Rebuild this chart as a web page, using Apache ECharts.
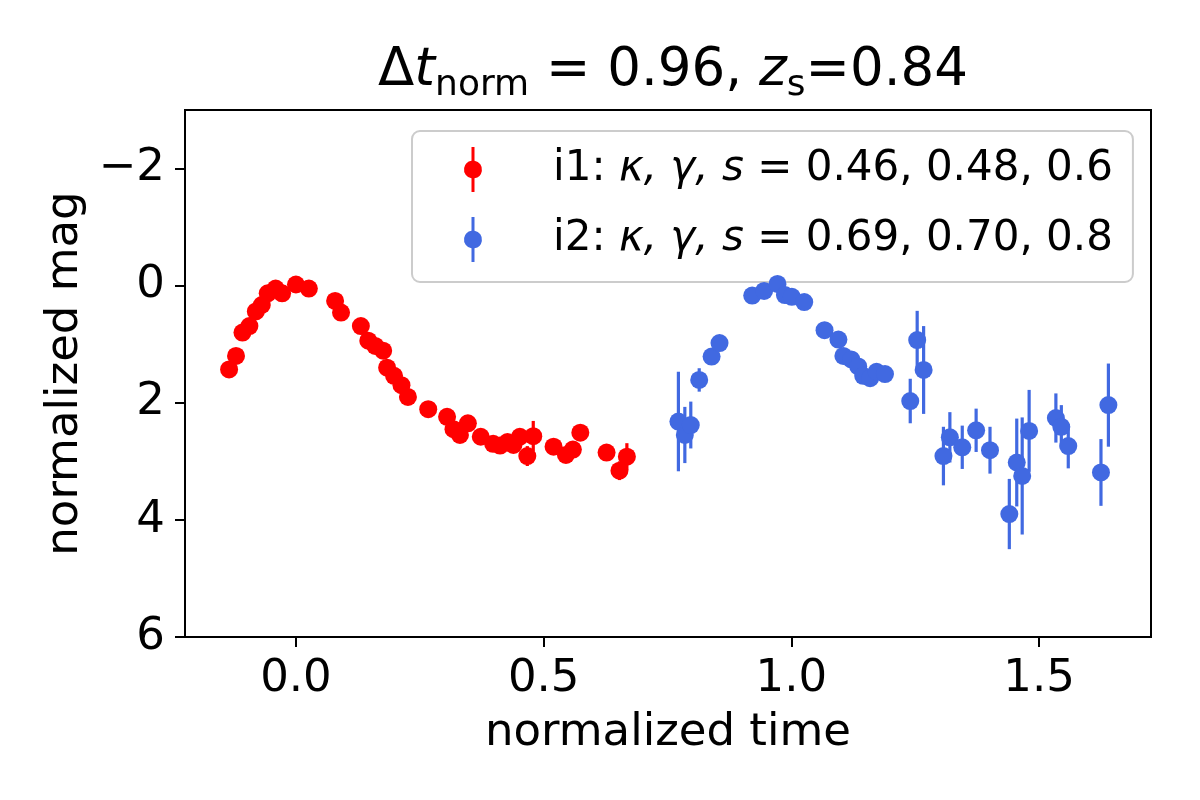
<!DOCTYPE html>
<html lang="en">
<head>
    <meta charset="UTF-8">
    <title>light curves</title>
    <script src="https://cdn.jsdelivr.net/npm/echarts@6/dist/echarts.min.js"></script>
    <style>
        html, body { margin: 0; padding: 0; background: #fff; }
        #main { width: 1200px; height: 800px; }
    </style>
</head>
<body>
<div id="main"></div>
<script>
    // image 1 (red)
    var i1Time = [-0.135, -0.121, -0.108, -0.094, -0.081, -0.069, -0.057, -0.041, -0.028, 0.000,
        0.026, 0.079, 0.091, 0.131, 0.146, 0.160, 0.176, 0.184, 0.198, 0.213,
        0.226, 0.267, 0.305, 0.318, 0.331, 0.347, 0.373, 0.398, 0.412, 0.427,
        0.439, 0.452, 0.467, 0.479, 0.520, 0.545, 0.559, 0.574, 0.627, 0.653, 0.668];
    var i1Mag = [1.43, 1.20, 0.80, 0.69, 0.44, 0.33, 0.13, 0.05, 0.13, -0.02,
        0.05, 0.26, 0.46, 0.69, 0.94, 1.03, 1.11, 1.40, 1.54, 1.70,
        1.90, 2.11, 2.24, 2.45, 2.55, 2.35, 2.58, 2.70, 2.73, 2.67,
        2.72, 2.58, 2.91, 2.57, 2.75, 2.89, 2.80, 2.51, 2.85, 3.16, 2.92];
    var i1Err = [0.10, 0.10, 0.10, 0.10, 0.10, 0.10, 0.10, 0.10, 0.10, 0.10,
        0.10, 0.10, 0.10, 0.10, 0.10, 0.10, 0.10, 0.10, 0.10, 0.10,
        0.10, 0.10, 0.10, 0.10, 0.10, 0.10, 0.10, 0.10, 0.10, 0.10,
        0.10, 0.10, 0.17, 0.26, 0.10, 0.10, 0.10, 0.10, 0.10, 0.16, 0.23];

    // image 2 (blue)
    var i2Time = [0.772, 0.785, 0.797, 0.814, 0.839, 0.855, 0.921, 0.945, 0.972, 0.987,
        1.001, 1.026, 1.067, 1.095, 1.105, 1.121, 1.135, 1.145, 1.159, 1.172,
        1.189, 1.240, 1.254, 1.267, 1.307, 1.320, 1.345, 1.373, 1.401, 1.440,
        1.455, 1.466, 1.480, 1.534, 1.545, 1.559, 1.625, 1.640];
    var i2Mag = [2.32, 2.55, 2.38, 1.61, 1.21, 0.98, 0.17, 0.09, -0.03, 0.16,
        0.19, 0.28, 0.76, 0.92, 1.20, 1.26, 1.38, 1.54, 1.58, 1.47,
        1.51, 1.97, 0.93, 1.44, 2.91, 2.59, 2.76, 2.47, 2.81, 3.90,
        3.02, 3.25, 2.48, 2.26, 2.41, 2.74, 3.19, 2.04];
    var i2Err = [0.85, 0.48, 0.40, 0.20, 0.10, 0.10, 0.08, 0.08, 0.08, 0.08,
        0.08, 0.08, 0.10, 0.10, 0.10, 0.10, 0.10, 0.10, 0.12, 0.12,
        0.12, 0.38, 0.50, 0.75, 0.50, 0.43, 0.37, 0.37, 0.40, 0.60,
        0.75, 1.00, 0.70, 0.42, 0.37, 0.38, 0.57, 0.71];

    var xTicks = [0, 0.5, 1.0, 1.5];
    var yTicks = [-2, 0, 2, 4, 6];
    var seriesNames = ['i1', 'i2'];
    var seriesParams = ['0.46, 0.48, 0.6', '0.69, 0.70, 0.8'];
    var seriesColors = ['#ff0000', '#4169e1'];
    var dtNorm = '0.96', zSource = '0.84';

    var FONT = 'DejaVu Sans';

    function points(t, m) {
        return t.map(function (v, k) { return [v, m[k]]; });
    }
    function bars(t, m, e) {
        return t.map(function (v, k) { return [v, m[k] - e[k], m[k] + e[k]]; });
    }
    function errorBar(color) {
        return function (params, api) {
            var a = api.coord([api.value(0), api.value(1)]);
            var b = api.coord([api.value(0), api.value(2)]);
            return {
                type: 'line',
                shape: { x1: a[0], y1: a[1], x2: b[0], y2: b[1] },
                style: { stroke: color, lineWidth: 3.2 }
            };
        };
    }
    function legendName(k) {
        return seriesNames[k] + ': κ, γ, s = ' + seriesParams[k];
    }

    // legend marker: dot with a vertical error bar through it
    var legendIcon = 'path://M5,0 L7,0 L7,9.084 A6,6 0 0,1 7,20.916 L7,30 L5,30 L5,20.916 A6,6 0 0,1 5,9.084 Z';

    var chart = echarts.init(document.getElementById('main'));
    var times = [i1Time, i2Time], mags = [i1Mag, i2Mag], errs = [i1Err, i2Err];
    var series = [];
    for (var k = 0; k < 2; k++) {
        series.push({
            type: 'custom',
            renderItem: errorBar(seriesColors[k]),
            data: bars(times[k], mags[k], errs[k]),
            encode: { x: 0, y: [1, 2] },
            silent: true,
            z: 2 + 2 * k
        });
        series.push({
            name: legendName(k),
            type: 'scatter',
            data: points(times[k], mags[k]),
            symbolSize: 18,
            itemStyle: { color: seriesColors[k], opacity: 1 },
            z: 3 + 2 * k
        });
    }

    var plain = { fontFamily: FONT, fontWeight: 'normal', color: '#000' };
    function rich(extra) { return Object.assign({}, plain, extra); }

    chart.setOption({
        animation: false,
        textStyle: { fontFamily: FONT },
        title: {
            text: '{n|Δ}{i|t}{s|norm}{n| = ' + dtNorm + ', }{i|z}{s|s}{n|=' + zSource + '}',
            left: 668,
            top: 40,
            textAlign: 'center',
            textStyle: {
                fontWeight: 'normal',
                rich: {
                    n: rich({ fontSize: 53, lineHeight: 53, verticalAlign: 'top' }),
                    i: rich({ fontSize: 53, fontStyle: 'italic', lineHeight: 53, verticalAlign: 'top' }),
                    s: rich({ fontSize: 36, lineHeight: 36, padding: [23, 0, 0, 0], verticalAlign: 'top' })
                }
            }
        },
        legend: {
            orient: 'vertical',
            left: 412,
            top: 131,
            padding: [16, 20, 20, 52],
            itemWidth: 18,
            itemHeight: 45,
            itemGap: 25,
            backgroundColor: 'rgba(255,255,255,0.8)',
            borderColor: '#cccccc',
            borderWidth: 2,
            borderRadius: 8,
            data: [0, 1].map(function (k) {
                return { name: legendName(k), icon: legendIcon, itemStyle: { color: seriesColors[k] } };
            }),
            formatter: function (name) {
                var k = seriesNames.indexOf(name.split(':')[0]);
                return '{n|' + seriesNames[k] + ': }{i|κ, γ, s}{n| = ' + seriesParams[k] + '}';
            },
            textStyle: {
                padding: [0, 0, 0, 66],
                rich: {
                    n: rich({ fontSize: 42 }),
                    i: rich({ fontSize: 42, fontStyle: 'italic' })
                }
            }
        },
        grid: {
            left: 185, right: 49, top: 110, bottom: 163,
            show: true, borderColor: '#000', borderWidth: 2
        },
        xAxis: {
            type: 'value',
            min: -0.224,
            max: 1.726,
            name: 'normalized time',
            nameLocation: 'middle',
            nameGap: 74,
            nameTextStyle: { fontFamily: FONT, fontSize: 45, color: '#000' },
            axisLine: { show: true, onZero: false, lineStyle: { color: '#000', width: 2 } },
            axisTick: { show: true, inside: false, length: 10, lineStyle: { color: '#000', width: 2 }, customValues: xTicks },
            axisLabel: {
                customValues: xTicks,
                fontFamily: FONT, fontSize: 45, color: '#000', margin: 20,
                formatter: function (v) { return v.toFixed(1); }
            },
            splitLine: { show: false }
        },
        yAxis: {
            type: 'value',
            inverse: true,
            min: -3,
            max: 6,
            name: 'normalized mag',
            nameLocation: 'middle',
            nameGap: 96,
            nameTextStyle: { fontFamily: FONT, fontSize: 45, color: '#000' },
            axisLine: { show: true, onZero: false, lineStyle: { color: '#000', width: 2 } },
            axisTick: { show: true, inside: false, length: 10, lineStyle: { color: '#000', width: 2 }, customValues: yTicks },
            axisLabel: {
                customValues: yTicks,
                fontFamily: FONT, fontSize: 45, color: '#000', margin: 20,
                formatter: function (v) { return v < 0 ? '\u2212' + Math.abs(v) : String(v); }
            },
            splitLine: { show: false }
        },
        series: series
    });
</script>
</body>
</html>
